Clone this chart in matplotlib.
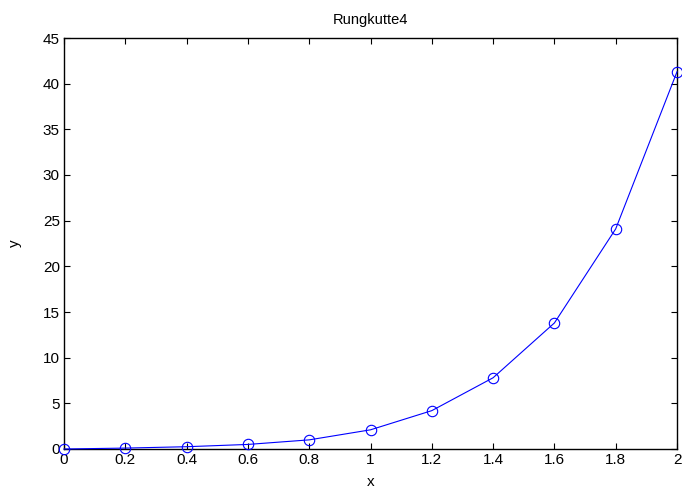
import matplotlib
matplotlib.use("Agg")
import matplotlib.pyplot as plt

x = [0, 0.2, 0.4, 0.6, 0.8, 1.0, 1.2, 1.4, 1.6, 1.8, 2.0]
y = [0, 0.1, 0.25, 0.5, 1.0, 2.1, 4.2, 7.8, 13.8, 24.1, 41.3]

xticks = [0, 0.2, 0.4, 0.6, 0.8, 1, 1.2, 1.4, 1.6, 1.8, 2]
xlabels = ["0", "0.2", "0.4", "0.6", "0.8", "1", "1.2", "1.4", "1.6", "1.8", "2"]
yticks = [0, 5, 10, 15, 20, 25, 30, 35, 40, 45]

plt.rcParams["font.family"] = ["Liberation Sans", "DejaVu Sans"]

fig = plt.figure(figsize=(6.82, 4.92), dpi=100)
ax = fig.add_axes([64 / 682, 1 - 449 / 492, 613 / 682, 411 / 492])

ax.plot(x, y, color="#0000ff", linewidth=0.8, marker="o", markersize=7.5,
        markerfacecolor="none", markeredgecolor="#0000ff", markeredgewidth=0.8,
        clip_on=False, zorder=3)

ax.set_xlim(0, 2)
ax.set_ylim(0, 45)
ax.set_xticks(xticks)
ax.set_xticklabels(xlabels)
ax.set_yticks(yticks)
ax.tick_params(direction="in", top=True, right=True, length=4, width=0.8,
               labelsize=11, pad=3)
for s in ax.spines.values():
    s.set_linewidth(1.0)

ax.set_title("Rungkutte4", fontsize=10.5, pad=10)
ax.set_xlabel("x", fontsize=11, labelpad=6)
ax.set_ylabel("y", fontsize=11, labelpad=15)

fig.savefig("out.png", dpi=100)
